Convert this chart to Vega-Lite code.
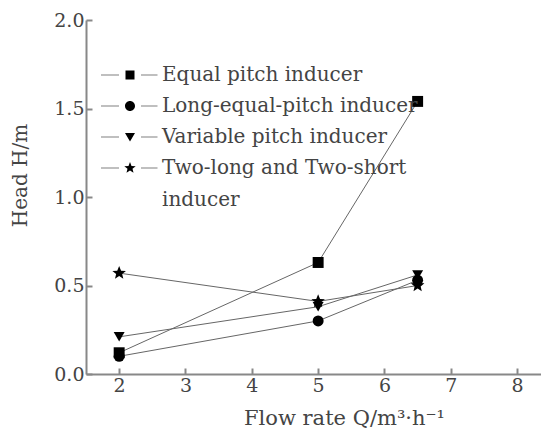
{
  "$schema": "https://vega.github.io/schema/vega-lite/v6.json",
  "width": 455,
  "height": 354,
  "autosize": "none",
  "padding": {"left": 86, "top": 20, "right": 0, "bottom": 69},
  "background": "white",
  "config": {
    "view": {"stroke": null},
    "font": "DejaVu Serif",
    "style": {"guide-label": {"lineHeight": 32}},
    "axis": {
      "domainColor": "#888",
      "domainWidth": 2,
      "tickColor": "#888",
      "tickWidth": 2,
      "tickSize": -6,
      "grid": false,
      "labelFont": "DejaVu Serif",
      "labelFontSize": 19,
      "labelColor": "#444",
      "titleFont": "DejaVu Serif",
      "titleFontSize": 20,
      "titleFontWeight": "normal",
      "titleColor": "#444"
    }
  },
  "data": {
    "values": [
      {"series": "Equal pitch inducer", "Q": 2, "H": 0.12},
      {"series": "Equal pitch inducer", "Q": 5, "H": 0.63},
      {"series": "Equal pitch inducer", "Q": 6.5, "H": 1.54},
      {"series": "Long-equal-pitch inducer", "Q": 2, "H": 0.1},
      {"series": "Long-equal-pitch inducer", "Q": 5, "H": 0.3},
      {"series": "Long-equal-pitch inducer", "Q": 6.5, "H": 0.53},
      {"series": "Variable pitch inducer", "Q": 2, "H": 0.21},
      {"series": "Variable pitch inducer", "Q": 5, "H": 0.38},
      {"series": "Variable pitch inducer", "Q": 6.5, "H": 0.56},
      {"series": "Two-long and Two-short inducer", "Q": 2, "H": 0.57},
      {"series": "Two-long and Two-short inducer", "Q": 5, "H": 0.41},
      {"series": "Two-long and Two-short inducer", "Q": 6.5, "H": 0.5}
    ]
  },
  "encoding": {
    "x": {
      "field": "Q",
      "type": "quantitative",
      "scale": {"domain": [1.5, 8.36], "nice": false, "zero": false},
      "axis": {
        "values": [2, 3, 4, 5, 6, 7, 8],
        "format": "d",
        "labelPadding": 8,
        "title": "Flow rate  Q/m³·h⁻¹",
        "titleFontSize": 21,
        "titleX": 258,
        "titleY": 44,
        "titleBaseline": "middle",
        "titleAnchor": "start",
        "titleAlign": "center"
      }
    },
    "y": {
      "field": "H",
      "type": "quantitative",
      "scale": {"domain": [0, 2], "nice": false},
      "axis": {
        "values": [0, 0.5, 1, 1.5, 2],
        "format": ".1f",
        "labelPadding": 8,
        "title": "Head H/m",
        "titleX": -66,
        "titleY": 155,
        "titleBaseline": "middle",
        "titleAlign": "center",
        "titleAngle": -90
      }
    }
  },
  "layer": [
    {
      "mark": {"type": "line", "color": "#666", "strokeWidth": 1},
      "encoding": {"detail": {"field": "series", "type": "nominal"}}
    },
    {
      "mark": {"type": "point", "filled": true, "color": "black", "opacity": 1, "size": 120},
      "encoding": {
        "shape": {
          "field": "series",
          "type": "nominal",
          "scale": {
            "domain": ["Equal pitch inducer", "Long-equal-pitch inducer", "Variable pitch inducer", "Two-long and Two-short inducer"],
            "range": ["square", "circle", "triangle-down", "M0,-1.3L0.35,-0.45L1.24,-0.4L0.55,0.17L0.76,1.05L0,0.55L-0.76,1.05L-0.55,0.17L-1.24,-0.4L-0.35,-0.45Z"]
          },
          "legend": null
        }
      }
    },
    {
      "mark": {"type": "point", "filled": true, "fill": "black", "size": 0},
      "encoding": {
        "shape": {
          "field": "series",
          "type": "nominal",
          "scale": {
            "domain": ["Equal pitch inducer", "Long-equal-pitch inducer", "Variable pitch inducer", "Two-long and Two-short inducer"],
            "range": [
              "M-5.8,-0.07H-2.2V0.07H-5.8ZM2.2,-0.07H5.5V0.07H2.2ZM-0.9,-0.9H0.9V0.9H-0.9Z",
              "M-5.8,-0.07H-2.2V0.07H-5.8ZM2.2,-0.07H5.5V0.07H2.2ZM1,0A1,1,0,1,1,-1,0A1,1,0,1,1,1,0Z",
              "M-5.8,-0.07H-2.2V0.07H-5.8ZM2.2,-0.07H5.5V0.07H2.2ZM-1,-0.8H1L0,0.9Z",
              "M-5.8,-0.07H-2.2V0.07H-5.8ZM2.2,-0.07H5.5V0.07H2.2ZM0,-1.2L0.3,-0.42L1.14,-0.37L0.5,0.16L0.7,0.97L0,0.5L-0.7,0.97L-0.5,0.16L-1.14,-0.37L-0.3,-0.42Z"
            ]
          },
          "legend": {
            "orient": "none",
            "legendX": 34,
            "legendY": 45,
            "title": null,
            "padding": 0,
            "labelFont": "DejaVu Serif",
            "labelFontSize": 20,
            "labelColor": "#444",
            "labelOffset": 22,
            "rowPadding": 11,
            "symbolSize": 100,
            "symbolOpacity": 1,
            "symbolFillColor": "black",
            "symbolStrokeWidth": 0,
            "labelLimit": 400,
            "labelExpr": "datum.label == 'Two-long and Two-short inducer' ? ['Two-long and Two-short', 'inducer'] : datum.label"
          }
        }
      }
    }
  ],
  "resolve": {"scale": {"shape": "independent"}, "legend": {"shape": "independent"}}
}
